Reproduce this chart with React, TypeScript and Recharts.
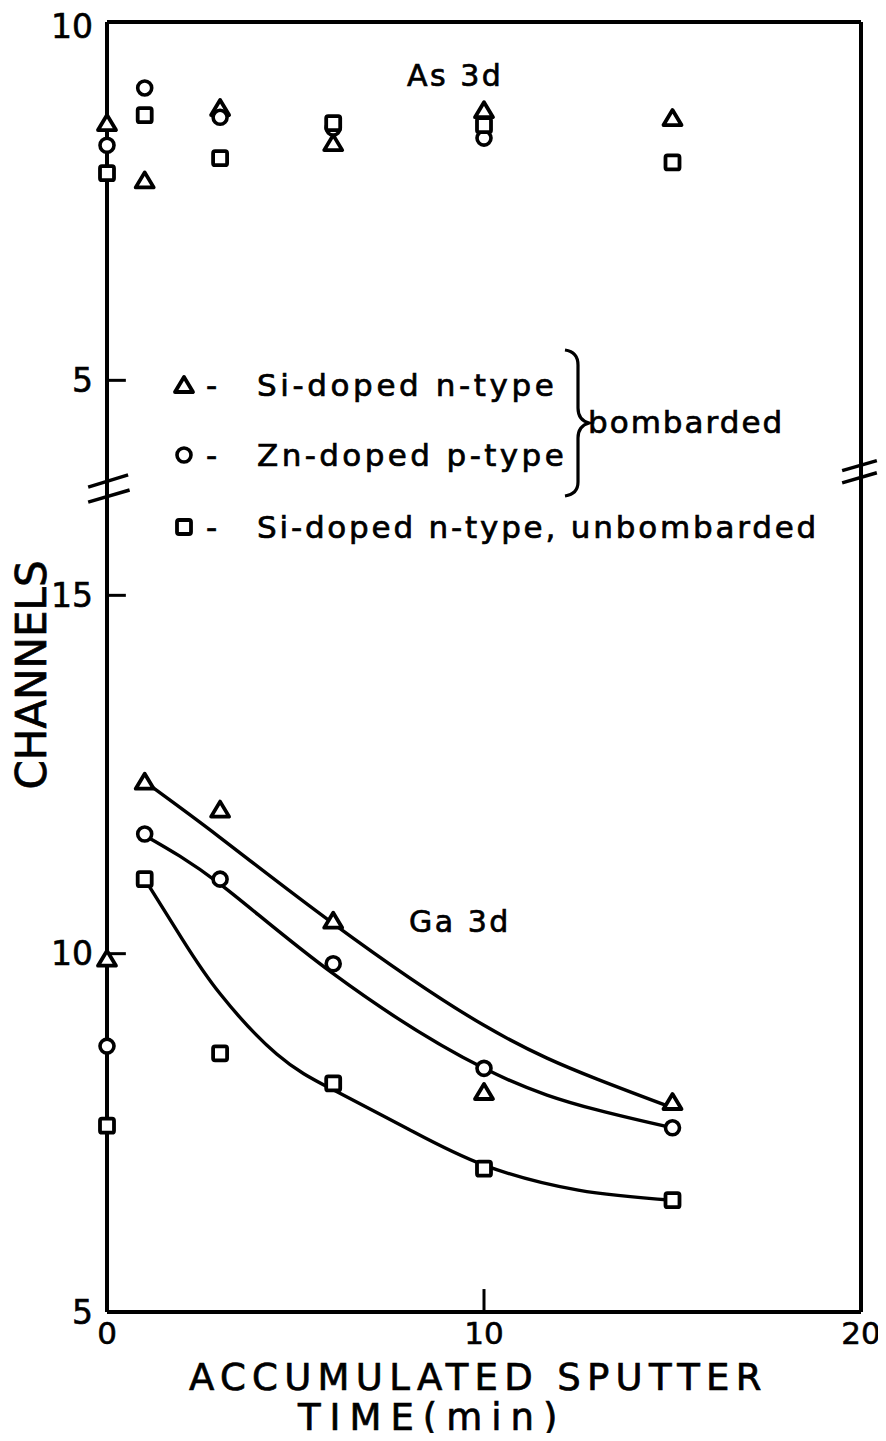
import React from 'react';
import { ComposedChart, Scatter, Line, XAxis, YAxis, ReferenceLine } from 'recharts';

// accumulated sputter time (min) of every measurement
const sputterTimes = [0, 1, 3, 6, 10, 15];

// As 3d peak position (channels, upper panel with its own 5-10 scale)
const asSiBombarded = [8.59, 7.79, 8.8, 8.31, 8.77, 8.66];
const asZnBombarded = [8.28, 9.08, 8.67, 8.52, 8.38, null];
const asSiUnbombarded = [7.89, 8.7, 8.1, 8.59, 8.56, 8.04];

// Ga 3d peak position (channels, lower panel 5-15)
const gaSiBombarded = [9.93, 12.4, 12.01, 10.46, 8.07, 7.93];
const gaZnBombarded = [8.71, 11.67, 11.04, 9.86, 8.4, 7.57];
const gaSiUnbombarded = [7.6, 11.04, 8.61, 8.19, 7.0, 6.56];

// hand drawn curves through the Ga 3d points
const fitSiTimes = [1, 3, 6, 10, 13, 15];
const fitSiValues = [12.4, 11.62, 10.42, 9.0, 8.25, 7.85];
const fitZnTimes = [1, 3, 6, 10, 13, 15];
const fitZnValues = [11.65, 10.97, 9.72, 8.4, 7.82, 7.57];
const fitUnTimes = [1, 2, 3, 4.5, 6, 8, 10, 12.5, 15];
const fitUnValues = [11.04, 10.2, 9.44, 8.6, 8.1, 7.55, 7.05, 6.7, 6.56];

// axis ticks
const xTicks = [0, 10, 20];
const yTicksLower = [5, 10, 15];
const yTicksUpper = [5, 10];

// upper panel sits 13 channels above the lower one on the shared axis
const AS_OFFSET = 13;
const Y_MIN = 5;
const Y_MAX = 23;

const FONT = "'DejaVu Sans', sans-serif";

const toPoints = (xs: number[], ys: (number | null)[], offset = 0) =>
  xs
    .map((x, i) => ({ x, y: ys[i] == null ? null : (ys[i] as number) + offset }))
    .filter((p) => p.y != null);

const Triangle = (props: any) => {
  const { cx, cy } = props;
  if (cx == null || cy == null) return null;
  return (
    <polygon
      points={`${cx},${cy - 8} ${cx + 9},${cy + 7} ${cx - 9},${cy + 7}`}
      fill="#fff"
      stroke="#000"
      strokeWidth={3.8}
      strokeLinejoin="round"
    />
  );
};

const Ring = (props: any) => {
  const { cx, cy } = props;
  if (cx == null || cy == null) return null;
  return <circle cx={cx} cy={cy} r={7} fill="#fff" stroke="#000" strokeWidth={3.6} />;
};

const Box = (props: any) => {
  const { cx, cy } = props;
  if (cx == null || cy == null) return null;
  return <rect x={cx - 7} y={cy - 7} width={14} height={14} rx={2} fill="#fff" stroke="#000" strokeWidth={3.8} />;
};

const yLabel = (v: number) => (v > 17 ? String(v - AS_OFFSET) : String(v));

const txt = { fill: '#000', stroke: '#000', strokeWidth: 0.7 };

const App = () => {
  const W = 878;
  const H = 1433;
  const lineProps = { stroke: '#000', strokeWidth: 3.4, dot: false, isAnimationActive: false, type: 'natural' as const };
  const seg = { stroke: '#000', ifOverflow: 'visible' as const };

  return (
    <div style={{ position: 'relative', width: W, height: H, marginBottom: -8, background: '#fff' }}>
      <ComposedChart width={W} height={H} margin={{ top: 14, right: 25, left: 39, bottom: 89 }}>
        <XAxis
          type="number"
          dataKey="x"
          domain={[0, 20]}
          ticks={xTicks}
          height={40}
          tickLine={false}
          tickSize={0}
          tickMargin={10}
          axisLine={{ stroke: '#000', strokeWidth: 4 }}
          tick={{ fontSize: 31, fontFamily: FONT, ...txt, strokeWidth: 0.6 }}
        />
        <YAxis
          type="number"
          dataKey="y"
          domain={[Y_MIN, Y_MAX]}
          ticks={[...yTicksLower, ...yTicksUpper.map((t) => t + AS_OFFSET)]}
          tickFormatter={yLabel}
          width={60}
          tickLine={false}
          tickSize={0}
          tickMargin={14}
          axisLine={{ stroke: '#000', strokeWidth: 4 }}
          tick={{ fontSize: 33, fontFamily: FONT, ...txt, strokeWidth: 0.6 }}
        />

        {/* frame */}
        <ReferenceLine y={Y_MAX} stroke="#000" strokeWidth={4} />
        <ReferenceLine x={20} stroke="#000" strokeWidth={4} />

        {/* inward ticks */}
        {[10, 15, 5 + AS_OFFSET].map((t) => (
          <ReferenceLine key={t} segment={[{ x: 0, y: t }, { x: 0.5, y: t }]} strokeWidth={3} {...seg} />
        ))}
        <ReferenceLine segment={[{ x: 10, y: 5 }, { x: 10, y: 5.32 }]} strokeWidth={3} {...seg} />

        {/* axis break marks */}
        <ReferenceLine segment={[{ x: -0.5, y: 16.51 }, { x: 0.56, y: 16.68 }]} strokeWidth={3.5} {...seg} />
        <ReferenceLine segment={[{ x: -0.5, y: 16.3 }, { x: 0.6, y: 16.47 }]} strokeWidth={3.5} {...seg} />
        <ReferenceLine segment={[{ x: 19.5, y: 16.74 }, { x: 20.42, y: 16.88 }]} strokeWidth={3.5} {...seg} />
        <ReferenceLine segment={[{ x: 19.5, y: 16.57 }, { x: 20.42, y: 16.71 }]} strokeWidth={3.5} {...seg} />

        {/* Ga 3d curves */}
        <Line data={toPoints(fitSiTimes, fitSiValues)} dataKey="y" {...lineProps} />
        <Line data={toPoints(fitZnTimes, fitZnValues)} dataKey="y" {...lineProps} />
        <Line data={toPoints(fitUnTimes, fitUnValues)} dataKey="y" {...lineProps} />

        {/* As 3d points */}
        <Scatter data={toPoints(sputterTimes, asSiBombarded, AS_OFFSET)} shape={Triangle} isAnimationActive={false} />
        <Scatter data={toPoints(sputterTimes, asZnBombarded, AS_OFFSET)} shape={Ring} isAnimationActive={false} />
        <Scatter data={toPoints(sputterTimes, asSiUnbombarded, AS_OFFSET)} shape={Box} isAnimationActive={false} />

        {/* Ga 3d points */}
        <Scatter data={toPoints(sputterTimes, gaSiBombarded)} shape={Triangle} isAnimationActive={false} />
        <Scatter data={toPoints(sputterTimes, gaZnBombarded)} shape={Ring} isAnimationActive={false} />
        <Scatter data={toPoints(sputterTimes, gaSiUnbombarded)} shape={Box} isAnimationActive={false} />
      </ComposedChart>

      <svg width={W} height={H} style={{ position: 'absolute', left: 0, top: 0, pointerEvents: 'none' }} fontFamily={FONT}>
        <text x={399} y={78} fontSize={30} letterSpacing={2.5} {...txt}>As 3d</text>
        <text x={401} y={924} fontSize={30} letterSpacing={2.5} {...txt}>Ga 3d</text>

        {/* legend */}
        <Triangle cx={176} cy={377} />
        <Ring cx={176} cy={447} />
        <Box cx={176} cy={519} />
        <text x={198} y={388} fontSize={31} {...txt}>-</text>
        <text x={198} y={458} fontSize={31} {...txt}>-</text>
        <text x={198} y={530} fontSize={31} {...txt}>-</text>
        <text x={249} y={388} fontSize={31} letterSpacing={3.6} {...txt}>Si-doped n-type</text>
        <text x={249} y={458} fontSize={31} letterSpacing={3.4} {...txt}>Zn-doped p-type</text>
        <text x={249} y={530} fontSize={31} letterSpacing={2.8} {...txt}>Si-doped n-type, unbombarded</text>
        <path
          d="M 557 342 Q 570 344 570 357 L 570 400 Q 570 412 581 415 Q 570 418 570 430 L 570 474 Q 570 486 557 488"
          fill="none"
          stroke="#000"
          strokeWidth={3.2}
        />
        <text x={580} y={425} fontSize={31} letterSpacing={2} {...txt}>bombarded</text>

        {/* axis titles */}
        <text x={23} y={667} fontSize={42} textAnchor="middle" dominantBaseline="central" transform="rotate(-90 23 667)" {...txt}>
          CHANNELS
        </text>
        <text x={181} y={1382} fontSize={37} letterSpacing={6.3} {...txt}>ACCUMULATED SPUTTER</text>
        <text x={290} y={1422} fontSize={37} letterSpacing={9} {...txt}>TIME(min)</text>
      </svg>
    </div>
  );
};

export default App;
